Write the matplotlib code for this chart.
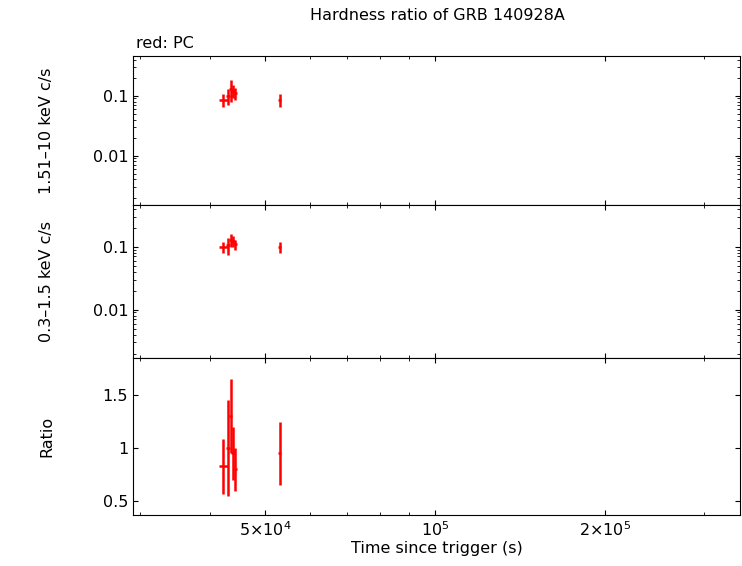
import matplotlib
matplotlib.use("Agg")
import matplotlib.pyplot as plt
from matplotlib.ticker import FixedLocator, FixedFormatter, NullFormatter

# PC data points (time s, x half-width, rates, errors)
t = [42200, 43000, 43500, 43900, 44300, 53100]
t_err = [800, 400, 300, 300, 300, 300]
hard = [0.085, 0.10, 0.13, 0.12, 0.11, 0.085]
hard_err = [0.02, 0.03, 0.05, 0.03, 0.025, 0.02]
soft = [0.10, 0.105, 0.13, 0.125, 0.11, 0.10]
soft_err = [0.02, 0.03, 0.03, 0.025, 0.02, 0.02]
ratio = [0.83, 1.0, 1.3, 0.95, 0.8, 0.95]
ratio_err = [0.26, 0.45, 0.35, 0.25, 0.2, 0.3]

xticks = [5e4, 1e5, 2e5]
xlabels = ["5×10$^4$", "10$^5$", "2×10$^5$"]

plt.rcParams["font.size"] = 11.5
fig = plt.figure(figsize=(7.42, 5.66), dpi=100)
axes = [fig.add_axes([133/742, (566 - y1)/566, 607/742, (y1 - y0)/566])
        for y0, y1 in [(56, 205), (205, 358), (358, 515)]]

series = [(hard, hard_err), (soft, soft_err), (ratio, ratio_err)]
for ax, (vals, errs) in zip(axes, series):
    ax.errorbar(t, vals, xerr=t_err, yerr=errs, fmt="none", ecolor="red", elinewidth=1.8)
    ax.set_xscale("log")
    ax.set_xlim(29200, 347000)
    ax.xaxis.set_major_locator(FixedLocator(xticks))
    ax.xaxis.set_major_formatter(NullFormatter())
    ax.xaxis.set_minor_formatter(NullFormatter())
    ax.tick_params(which="both", direction="in", top=True, right=True)

for ax in axes[:2]:
    ax.set_yscale("log")
    ax.yaxis.set_major_locator(FixedLocator([0.01, 0.1]))
    ax.yaxis.set_major_formatter(FixedFormatter(["0.01", "0.1"]))
    ax.yaxis.set_minor_formatter(NullFormatter())
axes[0].set_ylim(0.0015, 0.46)
axes[1].set_ylim(0.0017, 0.46)
axes[2].set_ylim(0.37, 1.85)
axes[2].set_yticks([0.5, 1, 1.5])
axes[2].set_yticklabels(["0.5", "1", "1.5"])
axes[2].xaxis.set_major_formatter(FixedFormatter(xlabels))

axes[0].set_ylabel("1.51–10 keV c/s")
axes[1].set_ylabel("0.3–1.5 keV c/s")
axes[2].set_ylabel("Ratio")
axes[2].set_xlabel("Time since trigger (s)", labelpad=2)
for ax in axes:
    ax.yaxis.set_label_coords(-0.13, 0.5)

fig.text(0.59, 0.965, "Hardness ratio of GRB 140928A", ha="center")
fig.text(136/742, 0.915, "red: PC", ha="left")

fig.savefig("out.png")
